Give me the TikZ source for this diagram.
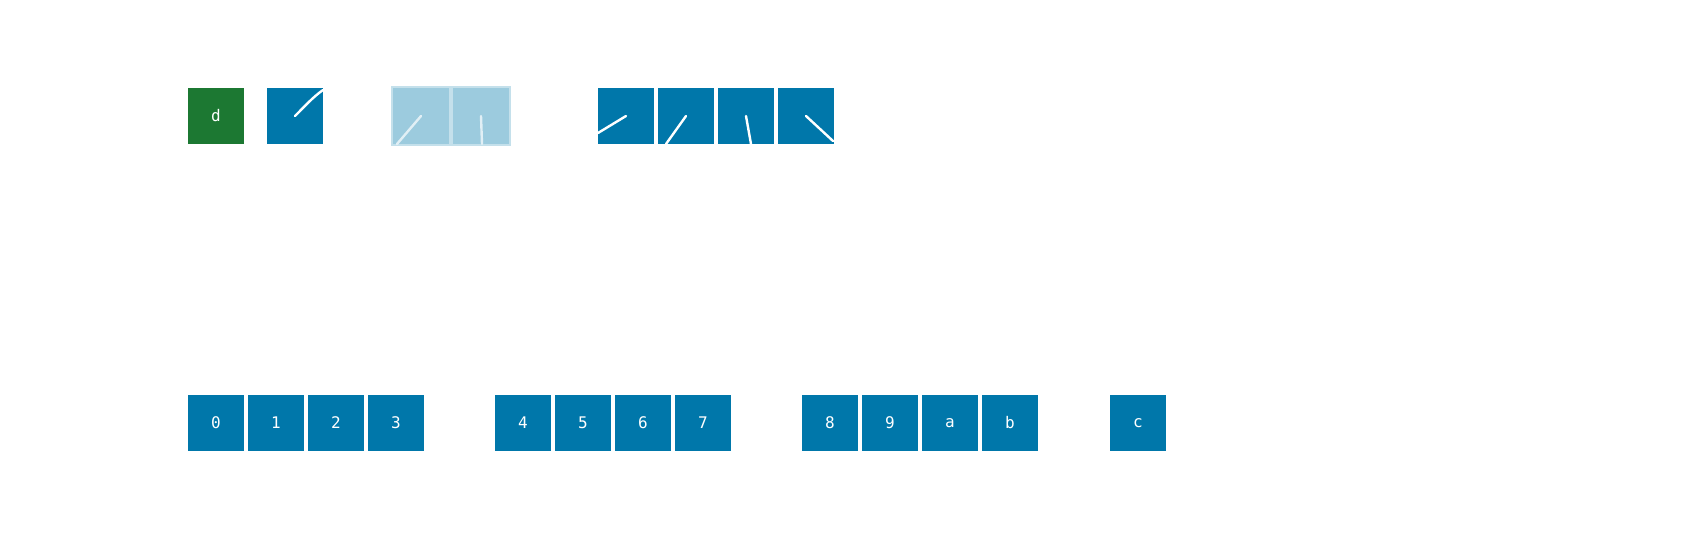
\documentclass[tikz,border=0pt]{standalone}
\usepackage{fontspec}
\setmonofont{DejaVu Sans Mono}
\usetikzlibrary{positioning}
\definecolor{cellblue}{HTML}{0077AA}
\definecolor{cellgreen}{HTML}{1C7832}
\definecolor{ghostblue}{HTML}{9CCBDE}
\tikzset{
  cell/.style={fill=cellblue, minimum size=28pt, inner sep=0pt, text=white, font=\ttfamily\fontsize{8}{8}\selectfont},
  ghost/.style={cell, fill=ghostblue, draw=ghostblue!60!white, line width=0.8pt, minimum size=29pt},
  hand/.style={white, line width=1.2pt, line cap=round},
}
\begin{document}
\begin{tikzpicture}[x=0.5pt, y=-0.5pt]
\useasboundingbox (0,0) rectangle (1684,541);
% bottom row, groups of four
\foreach \lbl/\x in {0/216,1/276,2/336,3/396,4/523,5/583,6/643,7/703,8/830,9/890,a/950,b/1010,c/1138}
  \node[cell] (c\lbl) at (\x,423) {\lbl};
% top row
\node[cell, fill=cellgreen] (d) at (216,116) {d};
\node[cell] (t0) at (295,116) {};
\node[ghost] (g0) at (421,116) {};
\node[ghost] (g1) at (481,116) {};
\foreach \i/\x in {1/626,2/686,3/746,4/806}
  \node[cell] (t\i) at (\x,116) {};
% hands from centres
\draw[hand] (t0.center) .. controls (305,106) and (313,97) .. (323,90);
\draw[hand, white!70!ghostblue] (g0.center) -- (397,144);
\draw[hand, white!70!ghostblue] (g1.center) -- (482,144);
\draw[hand] (t1.center) -- (598,133);
\draw[hand] (t2.center) -- (666,144);
\draw[hand] (t3.center) -- (751,144);
\draw[hand] (t4.center) -- (833,141);
\end{tikzpicture}
\end{document}
